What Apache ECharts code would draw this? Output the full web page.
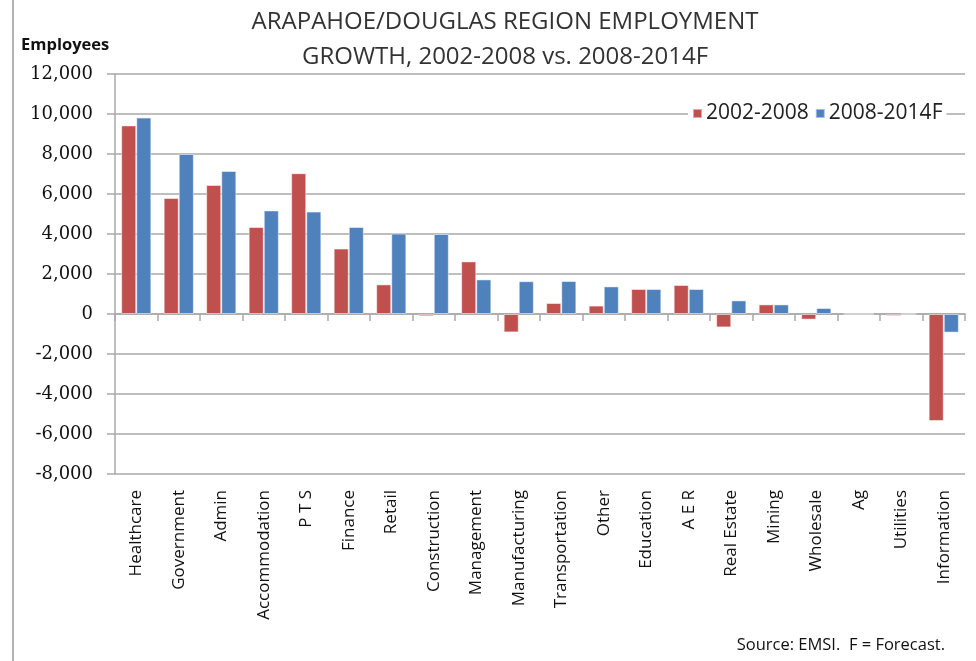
<!DOCTYPE html>
<html lang="en">
  <head>
    <meta charset="UTF-8" />
    <title>Arapahoe/Douglas employment growth</title>
    <style>
      html, body { margin: 0; padding: 0; background: #fff; }
      #main { width: 976px; height: 661px; }
    </style>
  </head>
  <body>
    <div id="main"></div>
    <script src="https://cdn.jsdelivr.net/npm/echarts@6/dist/echarts.min.js"></script>
    <script>
      // industries, in the order shown
      const categories = [
        "Healthcare", "Government", "Admin", "Accommodation", "P T S", "Finance",
        "Retail", "Construction", "Management", "Manufacturing", "Transportation",
        "Other", "Education", "A E R", "Real Estate", "Mining", "Wholesale",
        "Ag", "Utilities", "Information"
      ];
      // employment change
      const growth0208 = [
        9430, 5800, 6450, 4350, 7040, 3270, 1480, -110, 2630, -920, 550,
        420, 1250, 1450, -670, 480, -280, 0, -100, -5350
      ];
      const growth0814 = [
        9820, 8000, 7150, 5180, 5120, 4350, 4020, 4000, 1730, 1640, 1650,
        1380, 1250, 1250, 680, 480, 300, 0, 0, -930
      ];
      const seriesNames = ["2002-2008", "2008-2014F"];

      const myChart = echarts.init(document.getElementById("main"));

      const sans = "Open Sans";
      const gridGray = "#a9a9a9";

      const option = {
        animation: false,
        backgroundColor: "#fff",
        title: {
          text: "ARAPAHOE/DOUGLAS REGION EMPLOYMENT\nGROWTH, 2002-2008 vs. 2008-2014F",
          left: 500,
          top: 0,
          textAlign: "center",
          textStyle: {
            fontFamily: sans,
            fontSize: 24,
            fontWeight: "normal",
            color: "#333",
            lineHeight: 35
          }
        },
        legend: {
          data: seriesNames,
          left: 688,
          top: 101,
          icon: "rect",
          itemWidth: 9,
          itemHeight: 9,
          itemGap: 6,
          padding: [2, 4],
          backgroundColor: "#fff",
          textStyle: { fontFamily: sans, fontSize: 21, color: "#222", padding: [0, 0, 0, -1] }
        },
        grid: { left: 115, right: 11, top: 74, bottom: 187 },
        xAxis: [
          {
            type: "category",
            data: categories,
            axisLine: { onZero: true, lineStyle: { color: gridGray, width: 1.5 } },
            axisTick: { show: true, interval: 0, length: 7, lineStyle: { color: gridGray, width: 1.5 } },
            axisLabel: { show: false },
            splitLine: { show: false }
          },
          {
            type: "category",
            data: categories,
            position: "bottom",
            axisLine: { show: false, onZero: false },
            axisTick: { show: false },
            axisLabel: {
              rotate: 90,
              margin: 16,
              interval: 0,
              fontFamily: sans,
              fontSize: 17,
              color: "#111"
            }
          }
        ],
        yAxis: {
          type: "value",
          min: -8000,
          max: 12000,
          interval: 2000,
          axisLine: { show: true, lineStyle: { color: gridGray, width: 1.5 } },
          axisTick: { show: true, length: 8, lineStyle: { color: gridGray, width: 1.5 } },
          axisLabel: {
            margin: 22,
            fontFamily: "DejaVu Serif",
            fontSize: 18,
            color: "#111",
            formatter: function (v) {
              return v.toLocaleString("en-US");
            }
          },
          splitLine: { show: true, lineStyle: { color: gridGray, width: 1.5 } }
        },
        series: [
          {
            name: seriesNames[0],
            type: "bar",
            data: growth0208,
            barGap: "0%",
            barCategoryGap: "29%",
            itemStyle: { color: "#c0504d", borderColor: "rgba(255,255,255,0.5)", borderWidth: 1 }
          },
          {
            name: seriesNames[1],
            type: "bar",
            data: growth0814,
            itemStyle: { color: "#4f81bd", borderColor: "rgba(255,255,255,0.5)", borderWidth: 1 }
          }
        ],
        graphic: [
          {
            type: "line",
            shape: { x1: 13, y1: 0, x2: 13, y2: 661 },
            style: { stroke: "#999", lineWidth: 1.5 }
          },
          {
            type: "text",
            left: 21,
            top: 37,
            style: {
              text: "Employees",
              fontFamily: sans,
              fontSize: 16.5,
              fontWeight: "bold",
              fill: "#111"
            }
          },
          {
            type: "text",
            right: 31,
            top: 637,
            style: {
              text: "Source: EMSI.  F = Forecast.",
              fontFamily: sans,
              fontSize: 16.5,
              fill: "#111"
            }
          }
        ]
      };

      myChart.setOption(option);
    </script>
  </body>
</html>
